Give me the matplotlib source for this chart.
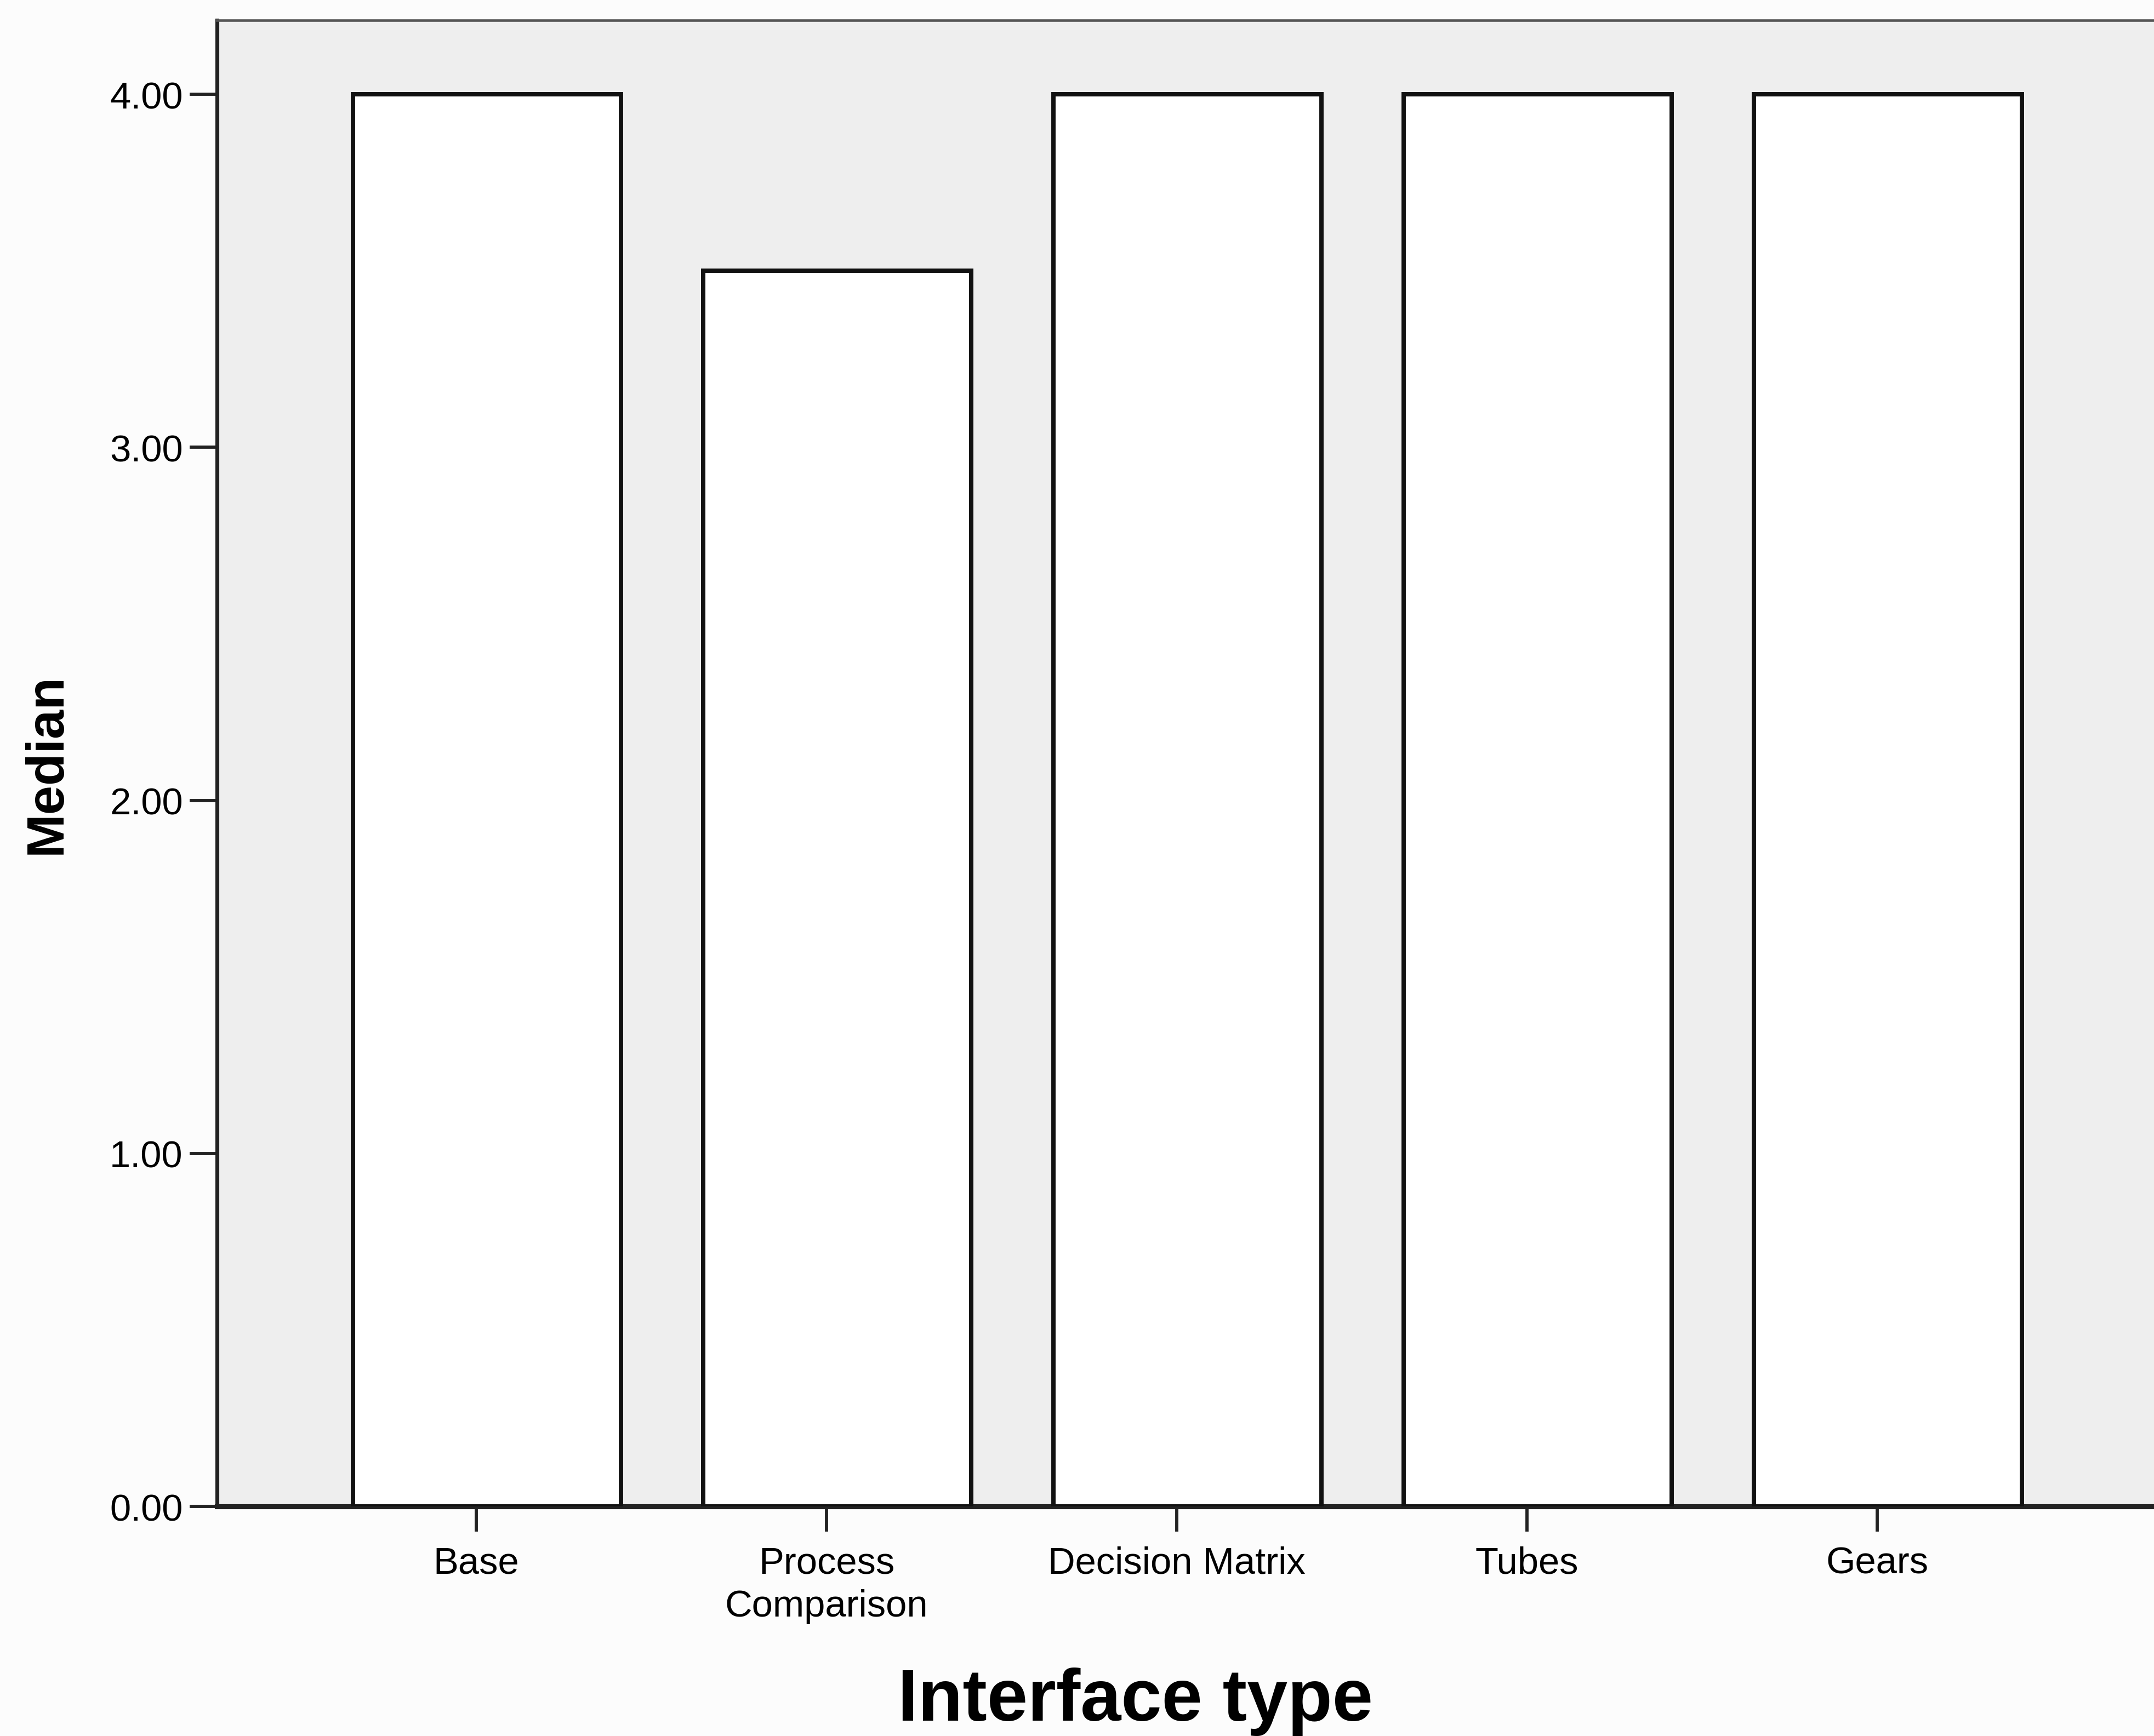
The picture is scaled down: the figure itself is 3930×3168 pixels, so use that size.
import matplotlib
matplotlib.use("Agg")
import matplotlib.pyplot as plt

# datos
categorias = ["Base", "Process\nComparison", "Decision Matrix", "Tubes", "Gears"]
medianas = [4.0, 3.5, 4.0, 4.0, 4.0]
marcas_y = [0.0, 1.0, 2.0, 3.0, 4.0]
etiquetas_y = ["0.00", "1.00", "2.00", "3.00", "4.00"]

plt.rcParams['font.family'] = ['Liberation Sans', 'DejaVu Sans']

fig = plt.figure(figsize=(13.1, 10.563), dpi=300, facecolor="#fcfcfc")
ax = fig.add_axes([0.1008, 0.1321, 0.8992, 0.8560])
ax.set_facecolor("#eeeeee")

posiciones = list(range(len(categorias)))
# las barras están un poco desplazadas a la derecha de las marcas
ax.bar([p + 0.03 for p in posiciones], medianas, width=0.765, color="white",
       edgecolor="#111111", linewidth=1.9, zorder=3)

ax.set_xlim(-0.74, 4.79)
ax.set_ylim(0, 4.21)

ax.set_yticks(marcas_y)
ax.set_yticklabels(etiquetas_y)
ax.set_xticks(posiciones)
ax.set_xticklabels(categorias, linespacing=1.3)

ax.tick_params(axis="y", direction="out", length=12, width=1.4, labelsize=16.5, pad=3, color="#222222")
ax.tick_params(axis="x", direction="out", length=11, width=1.4, labelsize=16.5, pad=6, color="#222222")

ax.spines["left"].set_linewidth(1.7)
ax.spines["bottom"].set_linewidth(2.2)
for lado in ["left", "bottom"]:
    ax.spines[lado].set_color("#222222")
ax.spines["top"].set_linewidth(1.1)
ax.spines["top"].set_color("#555555")
ax.spines["right"].set_visible(False)

ax.set_ylabel("Median", fontsize=23, fontweight="bold")
ax.yaxis.set_label_coords(-0.0752, 0.5)
ax.set_xlabel("Interface type", fontsize=32, fontweight="bold")
ax.xaxis.set_label_coords(0.474, -0.108)

fig.savefig("out.png", dpi=300, facecolor=fig.get_facecolor())
